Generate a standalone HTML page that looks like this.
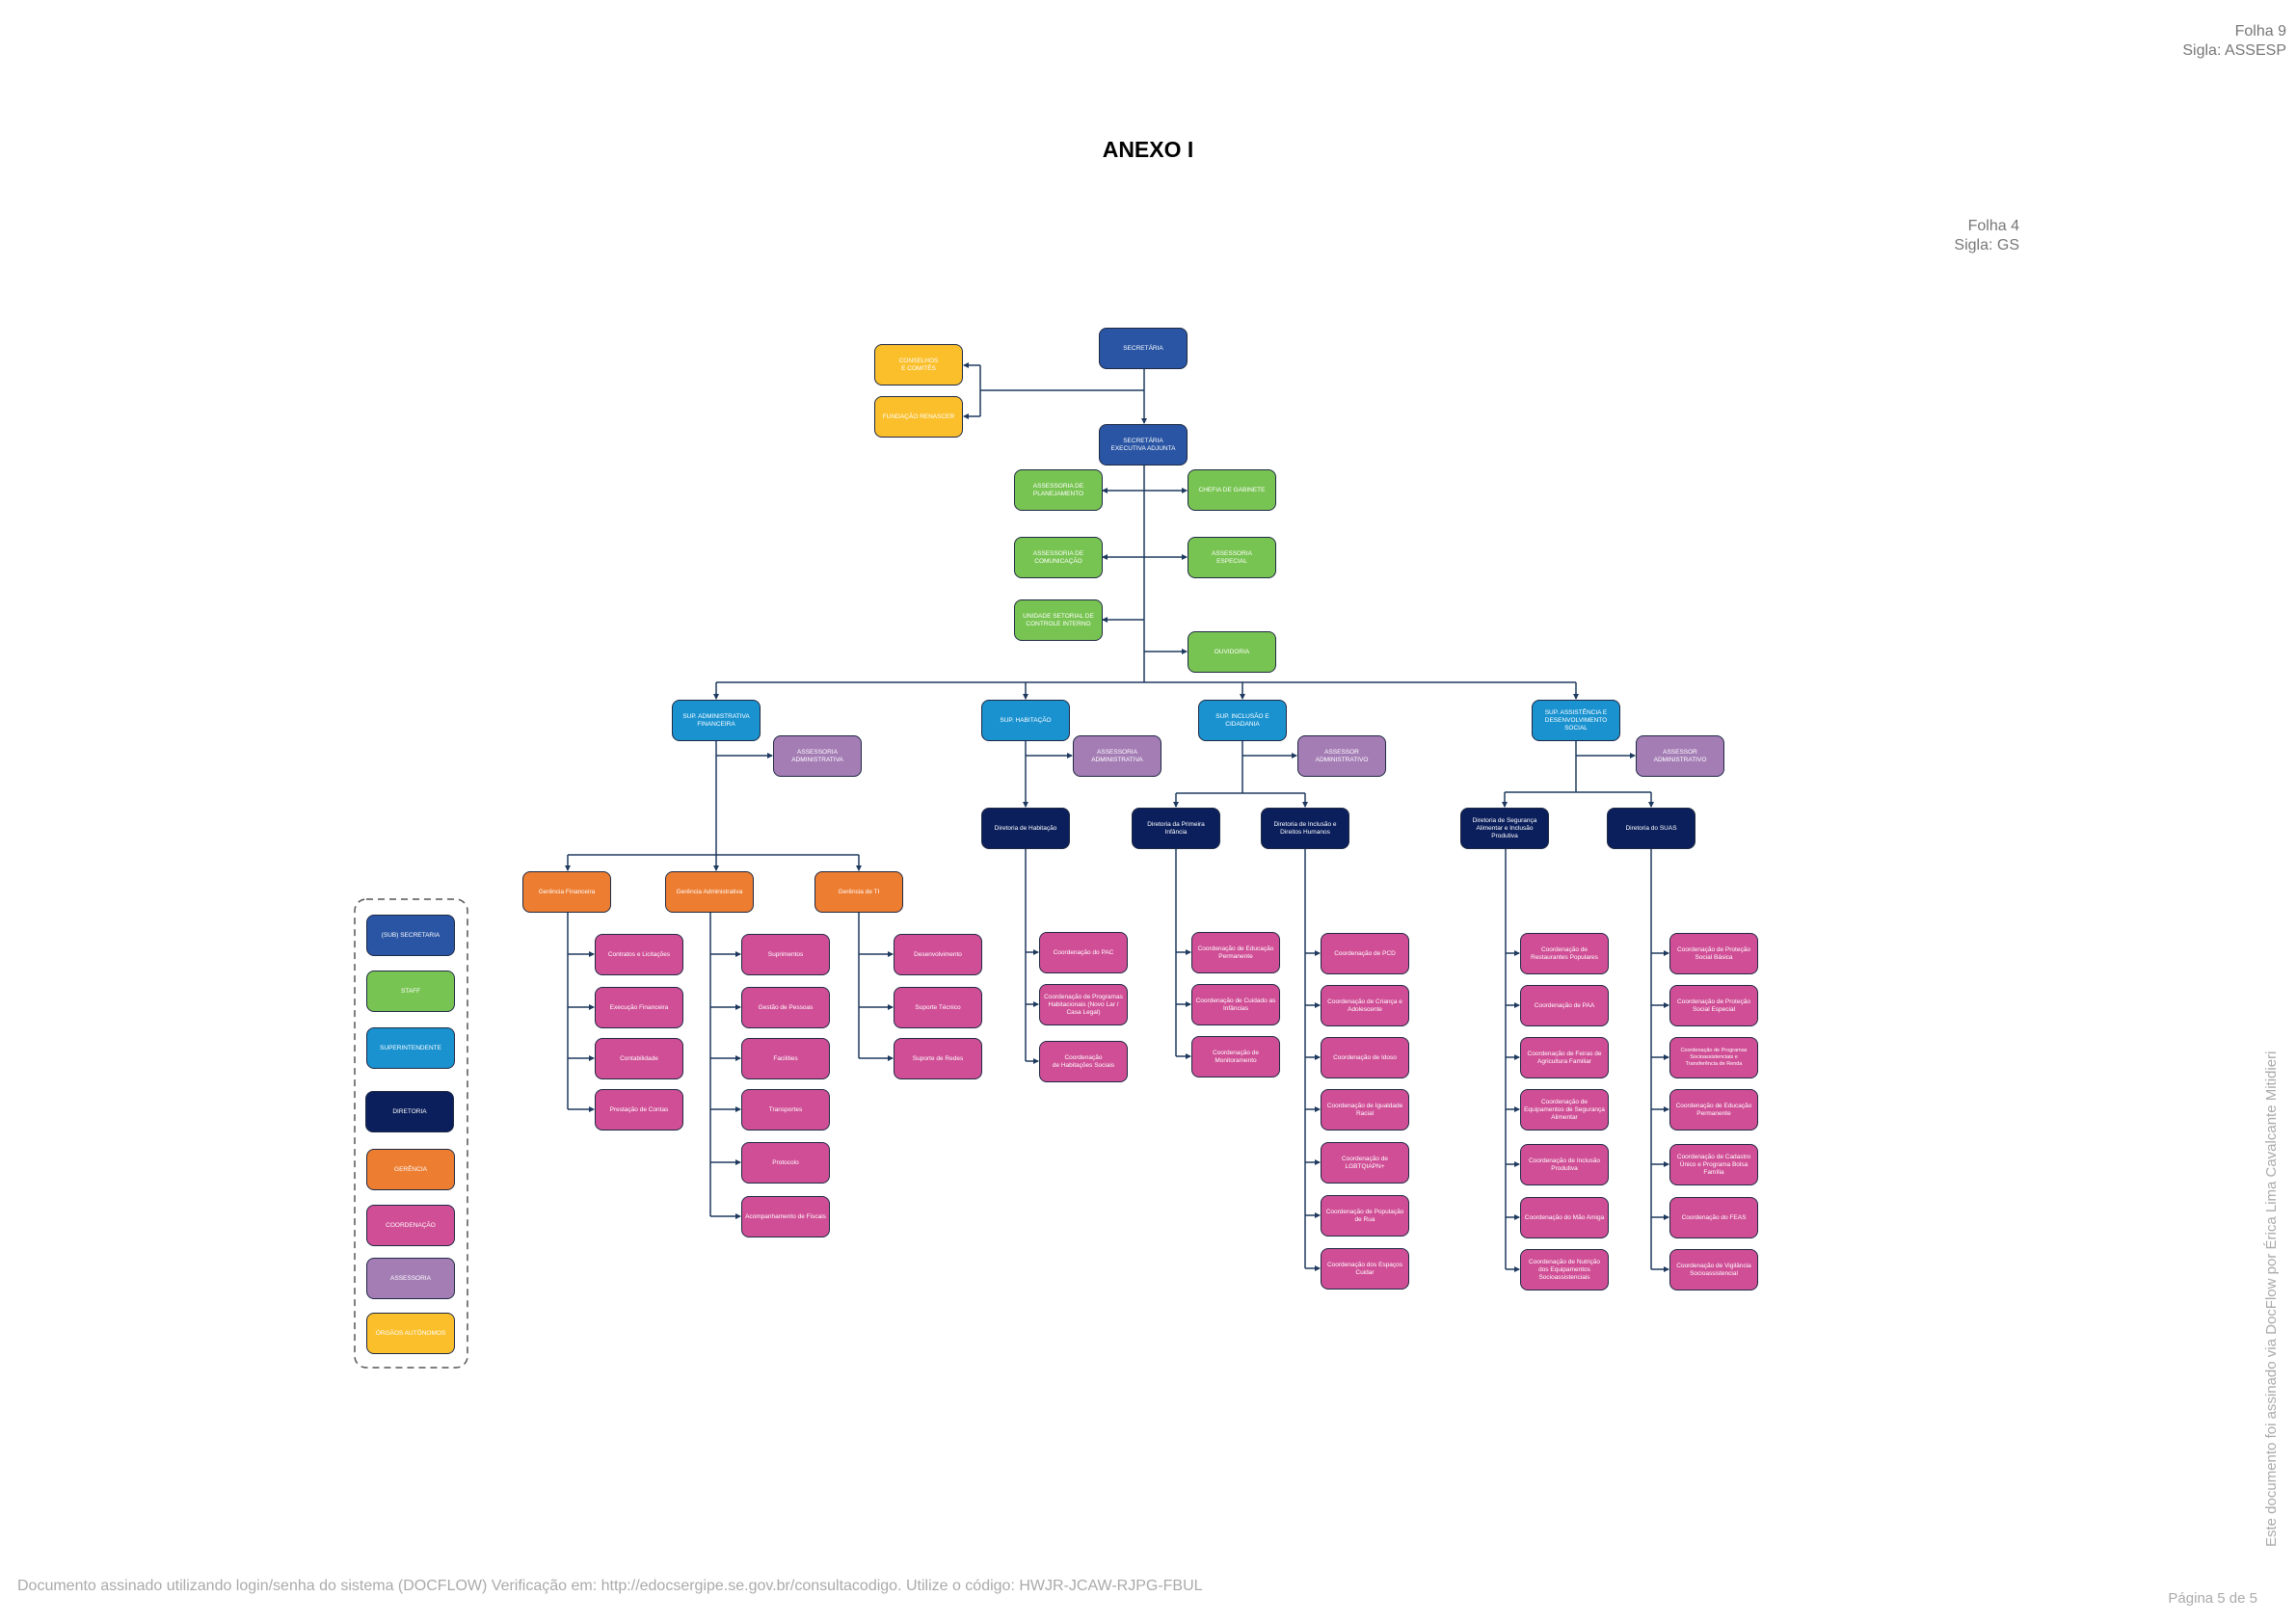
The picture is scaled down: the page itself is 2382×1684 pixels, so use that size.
<!DOCTYPE html>
<html><head><meta charset="utf-8">
<style>
html,body{margin:0;padding:0;background:#fff;}
body{width:2382px;height:1684px;position:relative;overflow:hidden;font-family:"Liberation Sans",sans-serif;}
.b{position:absolute;width:92px;height:43px;box-sizing:border-box;border:1.5px solid #1f2a44;border-radius:8px;display:flex;align-items:center;justify-content:center;text-align:center;color:#fff;font-size:6.5px;line-height:8px;padding:0 3px;}
.sec{background:#2955a4}.stf{background:#78c452}.sup{background:#1a92d0}.dir{background:#0b1f5c}
.ger{background:#ed7d31}.coo{background:#d04e96}.ass{background:#a47db5}.org{background:#fbbf2c}
.t{position:absolute;color:#777;font-size:16px;line-height:20px;text-align:right;}
svg{position:absolute;left:0;top:0;}
</style></head><body>
<svg width="2382" height="1684" viewBox="0 0 2382 1684">
<defs><marker id="a" markerWidth="6" markerHeight="6" refX="5" refY="3" orient="auto" markerUnits="userSpaceOnUse"><path d="M0,0 L6,3 L0,6z" fill="#1f3a5f"/></marker></defs>
<g fill="none" stroke="#1f3a5f" stroke-width="1.5">
<path d="M1187 383V439" marker-end="url(#a)"/>
<path d="M1187 405H1017M1017 379V432"/>
<path d="M1017 379H1000" marker-end="url(#a)"/><path d="M1017 432H1000" marker-end="url(#a)"/>
<path d="M1187 483V708"/>
<path d="M1187 509H1144" marker-end="url(#a)"/><path d="M1187 509H1231" marker-end="url(#a)"/>
<path d="M1187 578H1144" marker-end="url(#a)"/><path d="M1187 578H1231" marker-end="url(#a)"/>
<path d="M1187 643H1144" marker-end="url(#a)"/><path d="M1187 676H1231" marker-end="url(#a)"/>
<path d="M743 708H1635"/>
<path d="M743 708V725" marker-end="url(#a)"/><path d="M1064 708V725" marker-end="url(#a)"/>
<path d="M1289 708V725" marker-end="url(#a)"/><path d="M1635 708V725" marker-end="url(#a)"/>
<path d="M743 769V887"/><path d="M743 784H801" marker-end="url(#a)"/>
<path d="M589 887H891"/>
<path d="M589 887V903" marker-end="url(#a)"/><path d="M743 887V903" marker-end="url(#a)"/><path d="M891 887V903" marker-end="url(#a)"/>
<path d="M1064 769V837" marker-end="url(#a)"/><path d="M1064 784H1112" marker-end="url(#a)"/>
<path d="M1289 769V823"/><path d="M1289 784H1345" marker-end="url(#a)"/>
<path d="M1220 823H1354"/><path d="M1220 823V837" marker-end="url(#a)"/><path d="M1354 823V837" marker-end="url(#a)"/>
<path d="M1635 769V822"/><path d="M1635 784H1696" marker-end="url(#a)"/>
<path d="M1561 822H1713"/><path d="M1561 822V837" marker-end="url(#a)"/><path d="M1713 822V837" marker-end="url(#a)"/>
<path d="M589 946V1151"/>
<path d="M589 990H616" marker-end="url(#a)"/><path d="M589 1045H616" marker-end="url(#a)"/><path d="M589 1098H616" marker-end="url(#a)"/><path d="M589 1151H616" marker-end="url(#a)"/>
<path d="M737 946V1262"/>
<path d="M737 990H768" marker-end="url(#a)"/><path d="M737 1045H768" marker-end="url(#a)"/><path d="M737 1098H768" marker-end="url(#a)"/><path d="M737 1151H768" marker-end="url(#a)"/><path d="M737 1206H768" marker-end="url(#a)"/><path d="M737 1262H768" marker-end="url(#a)"/>
<path d="M891 946V1098"/>
<path d="M891 990H926" marker-end="url(#a)"/><path d="M891 1045H926" marker-end="url(#a)"/><path d="M891 1098H926" marker-end="url(#a)"/>
<path d="M1064 881V1101"/>
<path d="M1064 988H1077" marker-end="url(#a)"/><path d="M1064 1042H1077" marker-end="url(#a)"/><path d="M1064 1101H1077" marker-end="url(#a)"/>
<path d="M1220 881V1096"/>
<path d="M1220 988H1235" marker-end="url(#a)"/><path d="M1220 1042H1235" marker-end="url(#a)"/><path d="M1220 1096H1235" marker-end="url(#a)"/>
<path d="M1354 881V1316"/>
<path d="M1354 989H1369" marker-end="url(#a)"/><path d="M1354 1043H1369" marker-end="url(#a)"/><path d="M1354 1097H1369" marker-end="url(#a)"/><path d="M1354 1151H1369" marker-end="url(#a)"/><path d="M1354 1206H1369" marker-end="url(#a)"/><path d="M1354 1261H1369" marker-end="url(#a)"/><path d="M1354 1316H1369" marker-end="url(#a)"/>
<path d="M1562 881V1317"/>
<path d="M1562 989H1576" marker-end="url(#a)"/><path d="M1562 1043H1576" marker-end="url(#a)"/><path d="M1562 1097H1576" marker-end="url(#a)"/><path d="M1562 1151H1576" marker-end="url(#a)"/><path d="M1562 1208H1576" marker-end="url(#a)"/><path d="M1562 1263H1576" marker-end="url(#a)"/><path d="M1562 1317H1576" marker-end="url(#a)"/>
<path d="M1713 881V1317"/>
<path d="M1713 989H1731" marker-end="url(#a)"/><path d="M1713 1043H1731" marker-end="url(#a)"/><path d="M1713 1097H1731" marker-end="url(#a)"/><path d="M1713 1151H1731" marker-end="url(#a)"/><path d="M1713 1208H1731" marker-end="url(#a)"/><path d="M1713 1263H1731" marker-end="url(#a)"/><path d="M1713 1317H1731" marker-end="url(#a)"/>
</g>
<rect x="368" y="933" width="117" height="486" rx="12" fill="none" stroke="#555" stroke-width="1.5" stroke-dasharray="7,5"/>
</svg>

<div class="t" style="right:10px;top:23px;">Folha 9<br>Sigla: ASSESP</div>
<div class="t" style="left:1960px;width:135px;top:225px;">Folha 4<br>Sigla: GS</div>
<div style="position:absolute;left:0;width:2382px;top:142px;text-align:center;font-weight:bold;font-size:23px;color:#000;">ANEXO I</div>
<div style="position:absolute;left:18px;top:1637px;font-size:16px;color:#aaa;">Documento assinado utilizando login/senha do sistema (DOCFLOW) Verificação em: http://edocsergipe.se.gov.br/consultacodigo. Utilize o código: HWJR-JCAW-RJPG-FBUL</div>
<div style="position:absolute;right:40px;top:1650px;font-size:15px;color:#aaa;">Página 5 de 5</div>
<div style="position:absolute;left:2348px;top:1605px;transform-origin:0 0;transform:rotate(-90deg);font-size:15px;color:#aaa;white-space:nowrap;">Este documento foi assinado via DocFlow por Érica Lima Cavalcante Mitidieri</div>

<div class="b sec" style="left:1140px;top:340px;">SECRETÁRIA</div>
<div class="b org" style="left:907px;top:357px;">CONSELHOS<br>E COMITÊS</div>
<div class="b org" style="left:907px;top:411px;">FUNDAÇÃO RENASCER</div>
<div class="b sec" style="left:1140px;top:440px;">SECRETÁRIA<br>EXECUTIVA ADJUNTA</div>
<div class="b stf" style="left:1052px;top:487px;">ASSESSORIA DE PLANEJAMENTO</div>
<div class="b stf" style="left:1232px;top:487px;">CHEFIA DE GABINETE</div>
<div class="b stf" style="left:1052px;top:557px;">ASSESSORIA DE COMUNICAÇÃO</div>
<div class="b stf" style="left:1232px;top:557px;">ASSESSORIA<br>ESPECIAL</div>
<div class="b stf" style="left:1052px;top:622px;">UNIDADE SETORIAL DE CONTROLE INTERNO</div>
<div class="b stf" style="left:1232px;top:655px;">OUVIDORIA</div>

<div class="b sup" style="left:697px;top:726px;">SUP. ADMINISTRATIVA FINANCEIRA</div>
<div class="b sup" style="left:1018px;top:726px;">SUP. HABITAÇÃO</div>
<div class="b sup" style="left:1243px;top:726px;">SUP. INCLUSÃO E CIDADANIA</div>
<div class="b sup" style="left:1589px;top:726px;">SUP. ASSISTÊNCIA E DESENVOLVIMENTO SOCIAL</div>
<div class="b ass" style="left:802px;top:763px;">ASSESSORIA ADMINISTRATIVA</div>
<div class="b ass" style="left:1113px;top:763px;">ASSESSORIA ADMINISTRATIVA</div>
<div class="b ass" style="left:1346px;top:763px;">ASSESSOR ADMINISTRATIVO</div>
<div class="b ass" style="left:1697px;top:763px;">ASSESSOR ADMINISTRATIVO</div>

<div class="b dir" style="left:1018px;top:838px;">Diretoria de Habitação</div>
<div class="b dir" style="left:1174px;top:838px;">Diretoria da Primeira Infância</div>
<div class="b dir" style="left:1308px;top:838px;">Diretoria de Inclusão e Direitos Humanos</div>
<div class="b dir" style="left:1515px;top:838px;">Diretoria de Segurança Alimentar e Inclusão Produtiva</div>
<div class="b dir" style="left:1667px;top:838px;">Diretoria do SUAS</div>

<div class="b ger" style="left:542px;top:904px;">Gerência Financeira</div>
<div class="b ger" style="left:690px;top:904px;">Gerência Administrativa</div>
<div class="b ger" style="left:845px;top:904px;">Gerência de TI</div>

<div class="b coo" style="left:617px;top:969px;">Contratos e Licitações</div>
<div class="b coo" style="left:617px;top:1024px;">Execução Financeira</div>
<div class="b coo" style="left:617px;top:1077px;">Contabilidade</div>
<div class="b coo" style="left:617px;top:1130px;">Prestação de Contas</div>

<div class="b coo" style="left:769px;top:969px;">Suprimentos</div>
<div class="b coo" style="left:769px;top:1024px;">Gestão de Pessoas</div>
<div class="b coo" style="left:769px;top:1077px;">Facilities</div>
<div class="b coo" style="left:769px;top:1130px;">Transportes</div>
<div class="b coo" style="left:769px;top:1185px;">Protocolo</div>
<div class="b coo" style="left:769px;top:1241px;">Acompanhamento de Fiscais</div>

<div class="b coo" style="left:927px;top:969px;">Desenvolvimento</div>
<div class="b coo" style="left:927px;top:1024px;">Suporte Técnico</div>
<div class="b coo" style="left:927px;top:1077px;">Suporte de Redes</div>

<div class="b coo" style="left:1078px;top:967px;">Coordenação do PAC</div>
<div class="b coo" style="left:1078px;top:1021px;">Coordenação de Programas Habitacionais (Novo Lar / Casa Legal)</div>
<div class="b coo" style="left:1078px;top:1080px;">Coordenação<br>de Habitações Sociais</div>

<div class="b coo" style="left:1236px;top:967px;">Coordenação de Educação Permanente</div>
<div class="b coo" style="left:1236px;top:1021px;">Coordenação de Cuidado as Infâncias</div>
<div class="b coo" style="left:1236px;top:1075px;">Coordenação de Monitoramento</div>

<div class="b coo" style="left:1370px;top:968px;">Coordenação de PCD</div>
<div class="b coo" style="left:1370px;top:1022px;">Coordenação de Criança e Adolescente</div>
<div class="b coo" style="left:1370px;top:1076px;">Coordenação de Idoso</div>
<div class="b coo" style="left:1370px;top:1130px;">Coordenação de Igualdade Racial</div>
<div class="b coo" style="left:1370px;top:1185px;">Coordenação de LGBTQIAPN+</div>
<div class="b coo" style="left:1370px;top:1240px;">Coordenação de População de Rua</div>
<div class="b coo" style="left:1370px;top:1295px;">Coordenação dos Espaços Cuidar</div>

<div class="b coo" style="left:1577px;top:968px;">Coordenação de Restaurantes Populares</div>
<div class="b coo" style="left:1577px;top:1022px;">Coordenação de PAA</div>
<div class="b coo" style="left:1577px;top:1076px;">Coordenação de Feiras de Agricultura Familiar</div>
<div class="b coo" style="left:1577px;top:1130px;">Coordenação de Equipamentos de Segurança Alimentar</div>
<div class="b coo" style="left:1577px;top:1187px;">Coordenação de Inclusão Produtiva</div>
<div class="b coo" style="left:1577px;top:1242px;">Coordenação do Mão Amiga</div>
<div class="b coo" style="left:1577px;top:1296px;">Coordenação de Nutrição dos Equipamentos Socioassistenciais</div>

<div class="b coo" style="left:1732px;top:968px;">Coordenação de Proteção Social Básica</div>
<div class="b coo" style="left:1732px;top:1022px;">Coordenação de Proteção Social Especial</div>
<div class="b coo" style="left:1732px;top:1076px;font-size:5.5px;line-height:7px;">Coordenação de Programas Socioassistenciais e Transferência de Renda</div>
<div class="b coo" style="left:1732px;top:1130px;">Coordenação de Educação Permanente</div>
<div class="b coo" style="left:1732px;top:1187px;">Coordenação de Cadastro Único e Programa Bolsa Família</div>
<div class="b coo" style="left:1732px;top:1242px;">Coordenação do FEAS</div>
<div class="b coo" style="left:1732px;top:1296px;">Coordenação de Vigilância Socioassistencial</div>

<div class="b sec" style="left:380px;top:949px;">(SUB) SECRETARIA</div>
<div class="b stf" style="left:380px;top:1007px;">STAFF</div>
<div class="b sup" style="left:380px;top:1066px;">SUPERINTENDENTE</div>
<div class="b dir" style="left:379px;top:1132px;">DIRETORIA</div>
<div class="b ger" style="left:380px;top:1192px;">GERÊNCIA</div>
<div class="b coo" style="left:380px;top:1250px;">COORDENAÇÃO</div>
<div class="b ass" style="left:380px;top:1305px;">ASSESSORIA</div>
<div class="b org" style="left:380px;top:1362px;">ÓRGÃOS AUTÔNOMOS</div>
</body></html>
